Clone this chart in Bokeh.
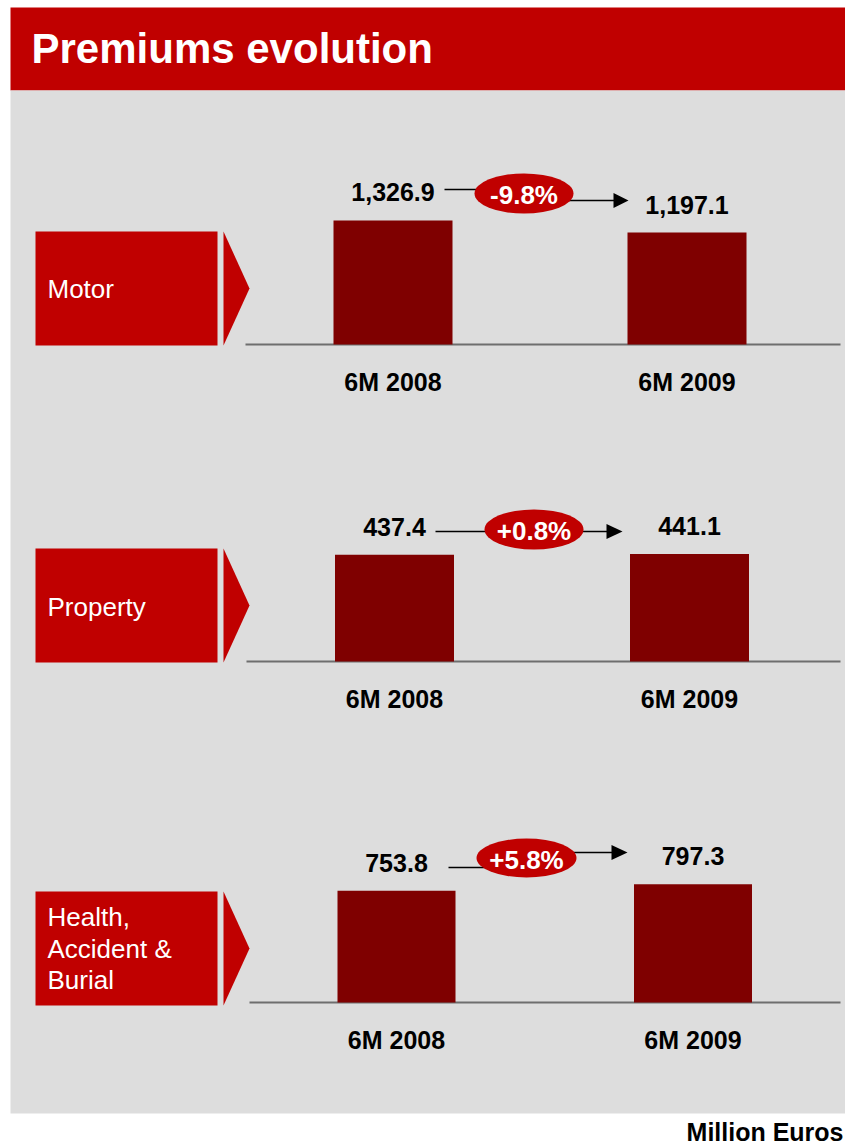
from bokeh.plotting import figure
from bokeh.models import Range1d
from bokeh.core.properties import value
from bokeh.embed import file_html
from bokeh.resources import INLINE

# ---------------- data ----------------
title = "Premiums evolution"
unit_label = "Million Euros"
periods = ["6M 2008", "6M 2009"]
segments = ["Motor", "Property", "Health,\nAccident &\nBurial"]
motor = [1326.9, 1197.1]
property_ = [437.4, 441.1]
health = [753.8, 797.3]
changes = ["-9.8%", "+0.8%", "+5.8%"]
series = [motor, property_, health]

# ---------------- layout (page pixel coordinates) ----------------
TOP, BOTTOM, LEFT, RIGHT = 0, 1147, 0, 845
RED = "#C00000"
BAR = "#7F0000"
GRAY = "#DDDDDD"
FONT = value("Liberation Sans")

box_top = [231, 548, 891]
box_bottom = [345, 662, 1005]
base_y = [344, 661, 1002]
px_per_unit = [1 / 10.7, 1 / 4.1, 1 / 6.745]
bar_x = [[392.5, 686.5], [394, 689], [396, 692.5]]
bar_w = [119, 119, 118]
line_x0 = [245, 246, 249]
label_mid = [288.5, 606, 916.5]
ell = [(523.5, 193, 99, 40), (533.5, 529, 99, 40), (526, 857.5, 100, 39)]
left_conn = [(444, 490, 189), (435, 500, 531), (448, 490, 867)]
right_conn = [(560, 613, 628, 200), (570, 606, 622, 531), (565, 611, 627, 852)]

p = figure(width=RIGHT - LEFT, height=BOTTOM - TOP,
           x_range=Range1d(LEFT, RIGHT), y_range=Range1d(BOTTOM, TOP),
           output_backend="svg", toolbar_location=None,
           x_axis_type=None, y_axis_type=None, min_border=0)
p.outline_line_color = None
p.grid.visible = False
p.background_fill_color = "white"
p.border_fill_color = "white"

# background panels
p.quad(left=[10], right=[RIGHT], top=[7], bottom=[90], color=RED, line_color=None)
p.quad(left=[10], right=[RIGHT], top=[90], bottom=[1113], color=GRAY, line_color=None)
p.text(x=[31], y=[48], text=[title], text_color="white", text_font=FONT,
       text_font_style="bold", text_font_size="42px", text_baseline="middle")
p.text(x=[843], y=[1131], text=[unit_label], text_color="black", text_font=FONT,
       text_font_style="bold", text_font_size="25px", text_baseline="middle",
       text_align="right")

for i, vals in enumerate(series):
    name = f"panel{i}"
    b = base_y[i]
    k = px_per_unit[i]
    p.extra_y_ranges[name] = Range1d(start=-(BOTTOM - b) / k, end=(b - TOP) / k)

    # left label box + chevron
    p.quad(left=[35], right=[217], top=[box_top[i]], bottom=[box_bottom[i]],
           color=RED, line_color=None)
    mid = (box_top[i] + box_bottom[i]) / 2
    p.patch(x=[223, 249, 223], y=[box_top[i], mid, box_bottom[i]], color=RED, line_color=None)
    lines = segments[i].split("\n")
    p.text(x=[47] * len(lines), y=[label_mid[i] + 31.5 * j for j in range(len(lines))],
           text=lines, text_color="white", text_font=FONT, text_font_size="26px",
           text_baseline="middle")

    # baseline
    p.segment(x0=[line_x0[i]], x1=[RIGHT - 5], y0=[b], y1=[b], line_color="#6E6E6E", line_width=2)

    # bars
    p.vbar(x=bar_x[i], top=vals, bottom=0, width=bar_w[i], color=BAR, line_color=None,
           y_range_name=name)
    p.text(x=bar_x[i], y=vals, text=[f"{v:,.1f}" for v in vals], y_range_name=name,
           y_offset=-28, text_align="center", text_baseline="middle",
           text_font=FONT, text_font_style="bold", text_font_size="25px", text_color="black")
    p.text(x=bar_x[i], y=[0, 0], text=periods, y_range_name=name, y_offset=37,
           text_align="center", text_baseline="middle",
           text_font=FONT, text_font_style="bold", text_font_size="25px", text_color="black")

    # change connector
    lx0, lx1, ly = left_conn[i]
    p.segment(x0=[lx0], x1=[lx1], y0=[ly], y1=[ly], line_color="black", line_width=1.5)
    rx0, rhx, tip, ry = right_conn[i]
    p.segment(x0=[rx0], x1=[rhx + 1], y0=[ry], y1=[ry], line_color="black", line_width=1.5)
    p.patch(x=[rhx, tip, rhx], y=[ry - 7.5, ry, ry + 7.5], color="black", line_color=None)
    ex, ey, ew, eh = ell[i]
    p.ellipse(x=[ex], y=[ey], width=[ew], height=[eh], color=RED, line_color=None)
    p.text(x=[ex], y=[ey + 1.5], text=[changes[i]], text_align="center",
           text_baseline="middle", text_font=FONT, text_font_style="bold",
           text_font_size="26px", text_color="white")

open("out.html", "w").write(file_html(p, INLINE))
